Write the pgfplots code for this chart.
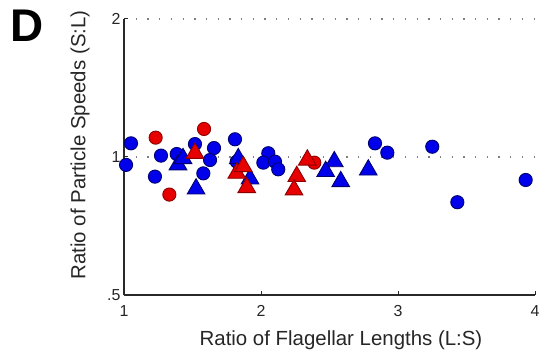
\documentclass[border=0pt]{standalone}
\usepackage{pgfplots}
\pgfplotsset{compat=1.18}
\usepackage{fontspec}
\setmainfont{Liberation Sans}
\definecolor{bfill}{RGB}{0,0,235}
\definecolor{bedge}{RGB}{0,0,110}
\definecolor{rfill}{RGB}{230,0,0}
\definecolor{redge}{RGB}{140,0,0}
\definecolor{axgray}{RGB}{40,40,40}
\begin{document}
\begin{tikzpicture}
\useasboundingbox (-124bp,-61bp) rectangle (421bp,295bp);
\begin{axis}[
  scale only axis,
  width=411bp, height=276bp,
  xmin=1, xmax=4,
  ymode=log, log basis y=2,
  ymin=0.5, ymax=2,
  axis x line=bottom, axis y line=left,
  axis line style={-, axgray, line width=1.2bp},
  xtick={1,2,3,4}, xticklabels={1,2,3,4},
  ytick={0.5,1,2}, yticklabels={.5,1,2},
  minor tick num=0,
  tick align=inside,
  major tick length=4bp,
  tick style={axgray, line width=1bp},
  ymajorgrids,
  major grid style={gray, line width=1.3bp, dash pattern=on 1.3bp off 10.4bp},
  tick label style={font=\fontsize{16}{19}\selectfont, text=black!85},
  xticklabel style={yshift=-7bp},
  clip=false,
]
% blue circles
\addplot[only marks, mark=*, mark size=6.6bp, mark options={fill=bfill, draw=bedge, line width=0.9bp}] coordinates {
(1.051,1.071) (1.015,0.961) (1.270,1.007) (1.226,0.906) (1.385,1.015)
(1.518,1.067) (1.657,1.046) (1.628,0.985) (1.579,0.921) (1.810,1.093)
(1.823,0.977) (2.053,1.019) (2.017,0.972) (2.102,0.977) (2.126,0.940)
(2.832,1.071) (2.922,1.022) (3.250,1.053) (3.433,0.797) (3.932,0.891)
};
% red circles
\addplot[only marks, mark=*, mark size=6.6bp, mark options={fill=rfill, draw=redge, line width=0.9bp}] coordinates {
(1.231,1.102) (1.331,0.828) (1.584,1.151) (2.389,0.972)
};
% blue triangles
\addplot[only marks, mark=triangle*, mark size=10.2bp, mark options={fill=bfill, draw=bedge, line width=0.9bp}] coordinates {
(1.394,0.962) (1.431,0.992) (1.526,0.852) (1.834,0.992) (1.920,0.896)
(2.535,0.977) (2.472,0.930) (2.582,0.884) (2.783,0.937)
};
% red triangles
\addplot[only marks, mark=triangle*, mark size=10.2bp, mark options={fill=rfill, draw=redge, line width=0.9bp}] coordinates {
(1.518,1.019) (1.823,0.922) (1.871,0.953) (1.896,0.858)
(2.261,0.907) (2.241,0.848) (2.338,0.985)
};
\end{axis}
\node[rotate=90, font=\fontsize{20.5}{24}\selectfont, text=black!85] at (-44bp,150bp) {Ratio of Particle Speeds (S:L)};
\node[font=\fontsize{20.5}{24}\selectfont, text=black!85] at (217bp,-45bp) {Ratio of Flagellar Lengths (L:S)};
\node[font=\fontsize{46}{50}\selectfont\bfseries, anchor=north west, inner sep=0pt] at (-114bp,285bp) {D};
\end{tikzpicture}
\end{document}
